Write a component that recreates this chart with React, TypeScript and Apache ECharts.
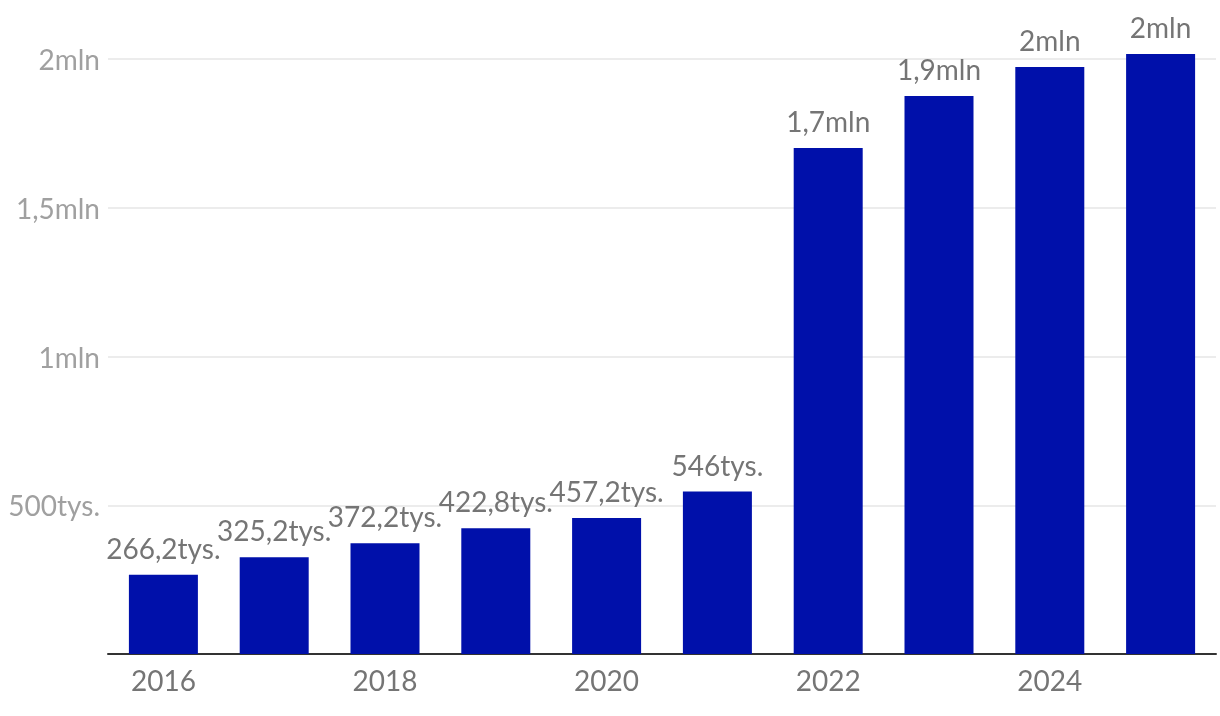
import React, { useEffect, useRef } from "react";
import * as echarts from "echarts";

const years = ["2016", "2017", "2018", "2019", "2020", "2021", "2022", "2023", "2024", "2025"];
const values = [266200, 325200, 372200, 422800, 457200, 546000, 1701000, 1876000, 1973000, 2017000];
const yTicks = [0, 500000, 1000000, 1500000, 2000000];

function fmt(v: number): string {
  if (v === 0) return "";
  if (v >= 1000000) {
    return (v / 1000000).toFixed(1).replace(/\.0$/, "").replace(".", ",") + "mln";
  }
  return (v / 1000).toFixed(1).replace(/\.0$/, "").replace(".", ",") + "tys.";
}

export default function App() {
  const ref = useRef<HTMLDivElement>(null);
  useEffect(() => {
    if (!ref.current) return;
    const chart = echarts.init(ref.current, null, { renderer: "svg" });
    chart.setOption({
      animation: false,
      textStyle: { fontFamily: "Lato" },
      grid: { left: 108, right: 4, top: 59, bottom: 62, containLabel: false },
      xAxis: {
        type: "category",
        data: years,
        axisTick: { show: false },
        axisLine: { lineStyle: { color: "#333", width: 2 } },
        axisLabel: { interval: 1, color: "#757575", fontSize: 28, fontFamily: "Lato", margin: 12 },
      },
      yAxis: {
        type: "value",
        min: yTicks[0],
        max: yTicks[yTicks.length - 1],
        interval: yTicks[1] - yTicks[0],
        axisLine: { show: false },
        axisTick: { show: false },
        splitLine: { lineStyle: { color: "#e6e6e6", width: 1.5 } },
        axisLabel: { color: "#a0a0a0", fontSize: 28, fontFamily: "Lato", margin: 8, formatter: (v: number) => fmt(v) },
      },
      series: [
        {
          type: "bar",
          data: values,
          barWidth: 69,
          clip: false,
          itemStyle: { color: "#0010AA" },
          label: {
            show: true,
            position: "top",
            distance: 13,
            color: "#757575",
            fontSize: 28,
            fontFamily: "Lato",
            formatter: (p: any) => fmt(p.value),
          },
        },
      ],
    });
    return () => chart.dispose();
  }, []);
  return <div ref={ref} style={{ position: "fixed", left: 0, top: 0, width: 1220, height: 716 }} />;
}
